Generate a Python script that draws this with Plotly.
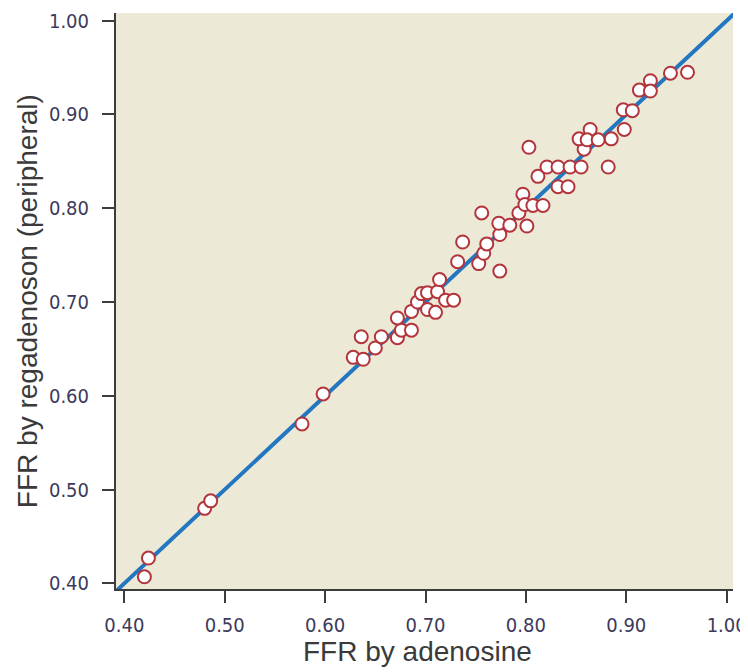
import plotly.graph_objects as go

# FFR by adenosine (x) vs FFR by regadenoson (peripheral) (y)
ffr_adenosine = [0.420, 0.424, 0.480, 0.486, 0.577, 0.598, 0.628, 0.638, 0.636, 0.650,
                 0.656, 0.672, 0.676, 0.686, 0.672, 0.686, 0.692, 0.696, 0.702, 0.702,
                 0.710, 0.712, 0.714, 0.720, 0.728, 0.732, 0.737, 0.753, 0.758, 0.761,
                 0.756, 0.774, 0.774, 0.773, 0.784, 0.801, 0.793, 0.797, 0.799, 0.807,
                 0.817, 0.812, 0.821, 0.832, 0.844, 0.855, 0.832, 0.842, 0.803, 0.858,
                 0.853, 0.864, 0.861, 0.872, 0.885, 0.882, 0.898, 0.897, 0.906, 0.913,
                 0.924, 0.924, 0.944, 0.961]
ffr_regadenoson = [0.407, 0.427, 0.480, 0.488, 0.570, 0.602, 0.641, 0.639, 0.663, 0.651,
                   0.663, 0.662, 0.670, 0.670, 0.683, 0.690, 0.700, 0.709, 0.710, 0.692,
                   0.689, 0.711, 0.724, 0.702, 0.702, 0.743, 0.764, 0.741, 0.752, 0.762,
                   0.795, 0.733, 0.772, 0.784, 0.782, 0.781, 0.795, 0.815, 0.804, 0.803,
                   0.803, 0.834, 0.844, 0.844, 0.844, 0.844, 0.823, 0.823, 0.865, 0.863,
                   0.874, 0.884, 0.873, 0.873, 0.874, 0.844, 0.884, 0.905, 0.904, 0.926,
                   0.936, 0.925, 0.944, 0.945]

identity_line = [0.385, 1.01]
tick_vals = [0.40, 0.50, 0.60, 0.70, 0.80, 0.90, 1.00]
tick_text = ["0.40", "0.50", "0.60", "0.70", "0.80", "0.90", "1.00"]

x_title = "FFR by adenosine"
y_title = "FFR by regadenoson (peripheral)"

tick_font = dict(family="DejaVu Sans Condensed, Liberation Sans Narrow, sans-serif",
                 size=20, color="#3d3a5c")
title_font = dict(family="Liberation Sans, Arial, sans-serif", size=28, color="#3a3a3a")

fig = go.Figure()
fig.add_trace(go.Scatter(x=identity_line, y=identity_line, mode="lines",
                         line=dict(color="#2277c0", width=4), hoverinfo="skip",
                         showlegend=False))
fig.add_trace(go.Scatter(x=ffr_adenosine, y=ffr_regadenoson, mode="markers",
                         marker=dict(size=13, color="white",
                                     line=dict(color="#b3353c", width=2)),
                         showlegend=False))

axis_common = dict(showgrid=False, zeroline=False, showline=True, linecolor="#3c3c3c",
                   linewidth=2, ticks="outside", ticklen=12, tickwidth=2,
                   tickcolor="#3c3c3c", tickvals=tick_vals, ticktext=tick_text,
                   tickfont=tick_font, mirror=False, automargin=False)

# page body has an 8px margin, so the figure is 8px smaller and margins shifted
fig.update_layout(
    width=740, height=664,
    margin=dict(l=108, r=15, t=5, b=83),
    paper_bgcolor="white",
    plot_bgcolor="#ECE9D7",
    xaxis=dict(range=[0.3917, 1.0063], ticklabelstandoff=5, **axis_common),
    yaxis=dict(range=[0.394, 1.0082], ticklabelstandoff=9, **axis_common),
    annotations=[
        dict(text=x_title, xref="paper", yref="paper", x=0.488, y=-0.109,
             xanchor="center", yanchor="middle", showarrow=False, font=title_font),
        dict(text=y_title, xref="paper", yref="paper", x=-0.144, y=0.5,
             xanchor="center", yanchor="middle", showarrow=False, textangle=-90,
             font=title_font),
    ],
)

fig.write_html("out.html")
